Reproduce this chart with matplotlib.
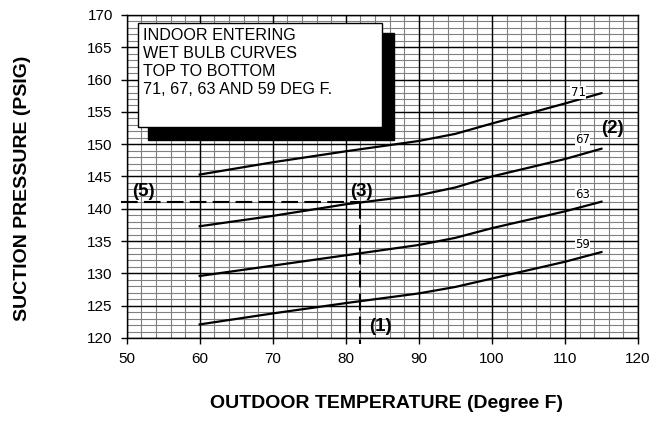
import numpy as np
import matplotlib
matplotlib.use('Agg')
import matplotlib.pyplot as plt
from matplotlib.patches import Rectangle

plt.rcParams['font.family'] = ['Liberation Sans', 'DejaVu Sans']

# outdoor temp points and suction pressure per indoor wet bulb curve
temp = [60, 70, 80, 90, 95, 100, 110, 115]
wb71 = [145.3, 147.2, 148.9, 150.5, 151.6, 153.2, 156.3, 157.9]
wb67 = [137.3, 138.9, 140.7, 142.1, 143.3, 145.0, 147.7, 149.3]
wb63 = [129.6, 131.2, 132.8, 134.4, 135.5, 137.0, 139.6, 141.1]
wb59 = [122.1, 123.8, 125.4, 126.9, 127.9, 129.2, 131.8, 133.3]
curves = [wb71, wb67, wb63, wb59]
curve_names = ['71', '67', '63', '59']

# example reading
ex_temp = 82
ex_press = 141.1

xticks = np.arange(50, 121, 10)
yticks = np.arange(120, 171, 5)

fig = plt.figure(figsize=(6.54, 4.41), dpi=100)
ax = fig.add_axes([0.1937, 0.2336, 0.7818, 0.7324])
ax.set_xlim(50, 120)
ax.set_ylim(120, 170)

# grid drawn by hand so the black major lines sit on top of the gray ones
ax.vlines(np.arange(50, 121, 2), 120, 170, color='#808080', lw=0.8, zorder=1)
ax.hlines(np.arange(120, 171, 1), 50, 120, color='#808080', lw=0.8, zorder=1)
ax.vlines(xticks, 120, 170, color='black', lw=1.0, zorder=2)
ax.hlines(yticks, 50, 120, color='black', lw=1.0, zorder=2)

ax.set_xticks(xticks)
ax.set_yticks(yticks)
ax.tick_params(direction='out', length=4, width=1, labelsize=11, pad=6)
for s in ax.spines.values():
    s.set_linewidth(1.0)
    s.set_zorder(8)

label_x = [111.8, 112.4, 112.4, 112.4]
label_y = [158.0, 150.7, 142.2, 134.4]
for vals, name, lx, ly in zip(curves, curve_names, label_x, label_y):
    ax.plot(temp, vals, color='black', lw=1.6, zorder=3)
    ax.text(lx, ly, name, fontsize=8.5, family='DejaVu Sans', ha='center', va='center',
            zorder=4, bbox=dict(facecolor='white', edgecolor='none', pad=0.2))

# dashed reading lines
ax.plot([49.2, ex_temp], [ex_press, ex_press], color='black', lw=1.5,
        ls=(0, (8, 3)), clip_on=False, zorder=3)
ax.plot([ex_temp, ex_temp], [ex_press, 119.0], color='black', lw=1.5,
        ls=(0, (8, 3)), clip_on=False, zorder=3)

ax.text(52.3, 142.6, '(5)', fontsize=13.5, fontweight='bold', ha='center', va='center', zorder=5)
ax.text(82.1, 142.6, '(3)', fontsize=13.5, fontweight='bold', ha='center', va='center', zorder=5)
ax.text(84.7, 121.8, '(1)', fontsize=13.5, fontweight='bold', ha='center', va='center', zorder=5)
ax.text(116.5, 152.5, '(2)', fontsize=13.5, fontweight='bold', ha='center', va='center', zorder=5)

# legend box with shadow
ax.add_patch(Rectangle((52.9, 150.65), 33.7, 16.55, facecolor='black', edgecolor='black', zorder=5))
ax.add_patch(Rectangle((51.5, 152.6), 33.4, 16.2, facecolor='white', edgecolor='black', lw=1.0, zorder=6))
ax.text(52.3, 168.0, 'INDOOR ENTERING\nWET BULB CURVES\nTOP TO BOTTOM\n71, 67, 63 AND 59 DEG F.',
        fontsize=11.6, ha='left', va='top', linespacing=1.24, zorder=7)

fig.text(23 / 654, 1 - 188 / 441, 'SUCTION PRESSURE (PSIG)', rotation=90, fontsize=14,
         fontweight='bold', ha='center', va='center')
fig.text(387 / 654, 1 - 403 / 441, 'OUTDOOR TEMPERATURE (Degree F)', fontsize=14,
         fontweight='bold', ha='center', va='center')

fig.savefig('out.png', dpi=100)
